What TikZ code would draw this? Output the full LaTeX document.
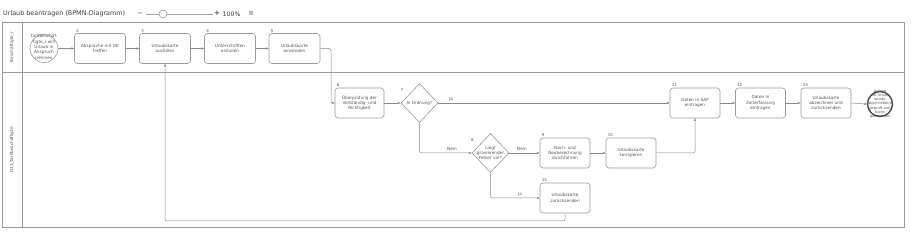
\documentclass[tikz,border=0pt]{standalone}
\usepackage{fontspec}
\setmainfont{DejaVu Sans}
\usetikzlibrary{shapes.geometric,arrows.meta,calc}
\definecolor{bord}{HTML}{9A9A9A}
\definecolor{linec}{HTML}{8A8A8A}
\definecolor{txtc}{HTML}{555555}
\tikzset{
  task/.style={draw=bord, line width=0.6pt, rounded corners=3pt, minimum width=51pt, minimum height=30pt, inner sep=0pt, align=center, font=\fontsize{4.2}{5.2}\selectfont, text=txtc, fill=white},
  gw/.style={draw=bord, line width=0.6pt, diamond, minimum width=37pt, minimum height=39pt, inner sep=0pt, fill=white},
  gwtxt/.style={align=center, font=\fontsize{4.2}{5.2}\selectfont, text=txtc, inner sep=0pt},
  num/.style={font=\fontsize{4}{4}\selectfont, text=txtc, inner sep=0.5pt, anchor=south west},
  flow/.style={draw=linec, line width=0.5pt, rounded corners=2pt, -{Stealth[length=3pt,width=2.4pt]}},
  lbl/.style={font=\fontsize{4.2}{5}\selectfont, text=txtc, inner sep=0.5pt},
  evtxt/.style={align=center, font=\fontsize{3.6}{4.3}\selectfont, text=txtc, inner sep=0pt},
}
\begin{document}
\begin{tikzpicture}[x=1pt,y=-1pt]
\useasboundingbox (0,0) rectangle (911,240);
\fill[white] (0,0) rectangle (911,240);
% toolbar
\node[anchor=west, font=\fontsize{6.4}{7}\selectfont, text=black!75, inner sep=0pt] (title) at (3,14) {Urlaub beantragen (BPMN-Diagramm)};
\node[font=\fontsize{6.5}{7}\selectfont, text=black!70, inner sep=0pt] (minus) at (140,14) {−};
\draw[black!35, line width=0.5pt] (146,14) -- (213,14);
\node[circle, draw=black!45, fill=white, minimum size=8pt, inner sep=0pt, line width=0.5pt] (knob) at (163,14) {};
\node[font=\bfseries\fontsize{7}{7}\selectfont, text=black!70, inner sep=0pt] (plus) at (217,13.5) {+};
\node[anchor=west, font=\fontsize{6.2}{7}\selectfont, text=black!75, inner sep=0pt] (zoom) at (222.5,14) {100\%};
\node[font=\fontsize{6.5}{7}\selectfont, text=black!70, inner sep=0pt] (menu) at (251,14) {≡};
% pool
\draw[bord, line width=0.8pt] (2,22) rectangle (904,227);
\draw[bord, line width=0.6pt] (22,22) -- (22,227);
\draw[bord, line width=0.6pt] (2,72) -- (904,72);
\node[rotate=90, font=\fontsize{4.2}{5}\selectfont, text=txtc, inner sep=0pt] (lane1) at (12,47) {Beschäftigte\_r};
\node[rotate=90, font=\fontsize{4.2}{5}\selectfont, text=txtc, inner sep=0pt] (lane2) at (12,150) {D11\_Tarifbeschäftigte};
% start event
\node[circle, draw=bord, line width=0.6pt, minimum size=28pt, inner sep=0pt, fill=white] (s) at (44,48.5) {};
\node[evtxt, font=\fontsize{4.2}{5.3}\selectfont, text width=30pt] (stxt) at (44,47) {Tarifbeschäf-\\tigte\_r will\\Urlaub in\\Anspruch\\nehmen};
% lane 1 tasks
\node[task] (t2) at (100,48.5) {Absprache mit OE\\treffen};
\node[task] (t3) at (165,48.5) {Urlaubskarte\\ausfüllen};
\node[task] (t4) at (230,48.5) {Unterschriften\\einholen};
\node[task] (t5) at (294.5,48.5) {Urlaubskarte\\einsenden};
\node[num] at ($(t2.north west)+(1.5,0)$) {2};
\node[num] at ($(t3.north west)+(1.5,0)$) {3};
\node[num] at ($(t4.north west)+(1.5,0)$) {4};
\node[num] at ($(t5.north west)+(1.5,0)$) {5};
% lane 2
\node[task, minimum width=49pt] (t6) at (359.5,103) {Überprüfung der\\Vollständig- und\\Richtigkeit};
\node[num] at ($(t6.north west)+(1.5,0)$) {6};
\node[gw] (d7) at (419.5,103) {};
\node[gwtxt] at (d7) {In Ordnung?};
\node[num] at (400,92) {7};
\node[gw] (d8) at (490.5,153) {};
\node[gwtxt] at (d8) {Liegt\\gravierender\\Fehler vor?};
\node[num] at (470.5,142) {8};
\node[task, minimum width=50pt] (t9) at (565,153) {Nach- und\\Neuberechnung\\durchführen};
\node[task, minimum width=50pt] (t10) at (631,153) {Urlaubskarte\\korrigieren};
\node[task, minimum width=50pt] (t11) at (695,103) {Daten in SAP\\eintragen};
\node[task, minimum width=50pt] (t12) at (760.5,103) {Daten in\\Zeiterfassung\\eintragen};
\node[task, minimum width=50pt] (t13) at (826,103) {Urlaubskarte\\abzeichnen und\\zurücksenden};
\node[task, minimum width=50pt] (t15) at (565,198) {Urlaubskarte\\zurücksenden};
\node[num] at ($(t9.north west)+(1.5,0)$) {9};
\node[num] at ($(t10.north west)+(1.5,0)$) {10};
\node[num] at ($(t11.north west)+(1.5,0)$) {11};
\node[num] at ($(t12.north west)+(1.5,0)$) {12};
\node[num] at ($(t13.north west)+(1.5,0)$) {13};
\node[num] at ($(t15.north west)+(1.5,0)$) {15};
% end event
\node[circle, draw=black!70, line width=1.4pt, minimum size=25pt, inner sep=0pt, fill=white] (e) at (880,104) {};
\node[evtxt, text width=26pt] (etxt) at (880,104) {Antrag auf Urlaub\\wurde\\abschließend\\geprüft und\\Karte genommen};
% flows
\draw[flow] (s.east) -- (t2.west);
\draw[flow] (t2.east) -- (t3.west);
\draw[flow] (t3.east) -- (t4.west);
\draw[flow] (t4.east) -- (t5.west);
\draw[flow] (t5.east) -- ++(10.7,0) |- (t6.west);
\draw[flow] (t6.east) -- (d7.west);
\draw[flow] (d7.east) -- (t11.west);
\node[lbl] (ja1) at (451,99) {Ja};
\draw[flow] (d7.south) |- (d8.west);
\node[lbl] (nein1) at (452,149) {Nein};
\draw[flow] (d8.east) -- (t9.west);
\node[lbl] (nein2) at (522,149) {Nein};
\draw[flow] (t9.east) -- (t10.west);
\draw[flow] (t10.east) -| (t11.south);
\draw[flow] (d8.south) |- (t15.west);
\node[lbl] (ja2) at (520,194) {Ja};
\draw[flow] (t15.south) -- ++(0,7.7) -| (t3.south);
\draw[flow] (t11.east) -- (t12.west);
\draw[flow] (t12.east) -- (t13.west);
\draw[flow] (t13.east) -- (e.west);
\end{tikzpicture}
\end{document}
